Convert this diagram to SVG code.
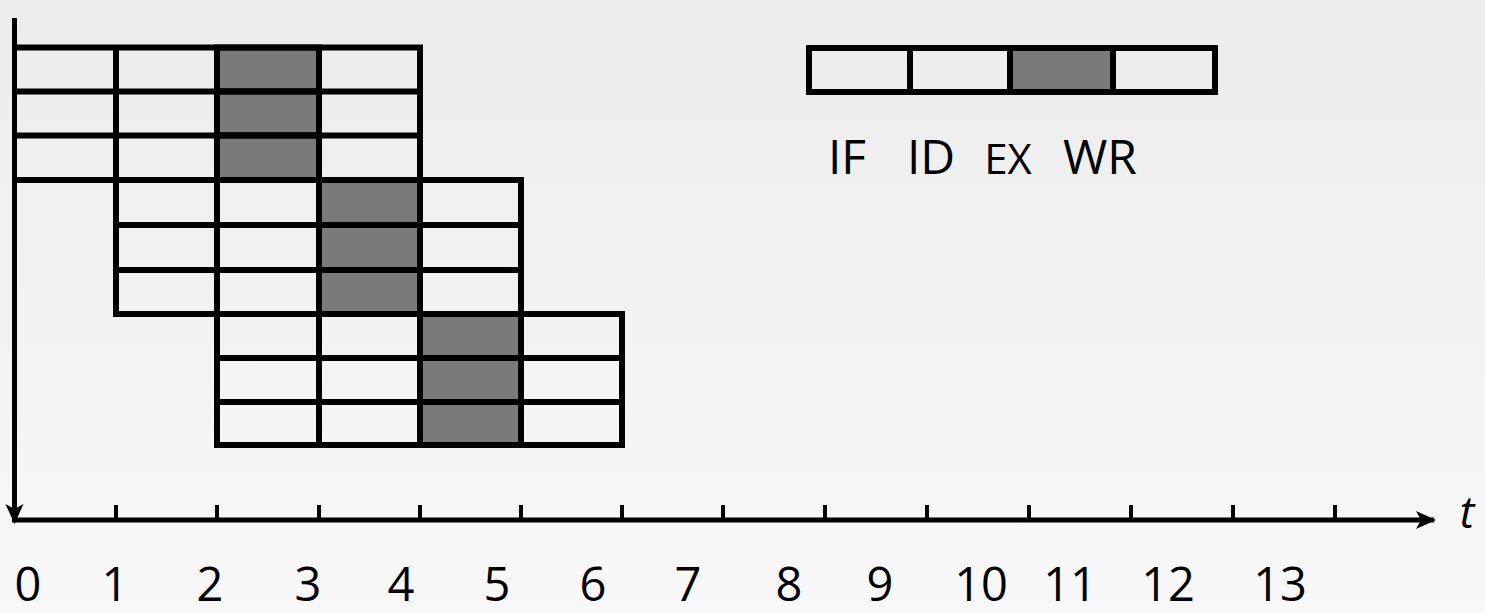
<svg xmlns="http://www.w3.org/2000/svg" width="1485" height="613" viewBox="0 0 1485 613">
<defs>
<linearGradient id="bg" x1="0" y1="0" x2="0" y2="1">
<stop offset="0" stop-color="#ececec"/>
<stop offset="1" stop-color="#f8f8f8"/>
</linearGradient>
<marker id="arr" viewBox="0 0 20 20" refX="18" refY="10" markerWidth="20" markerHeight="20" markerUnits="userSpaceOnUse" orient="auto">
<path d="M0,1 L20,10 L0,19 L5,10 Z" fill="#000"/>
</marker>
</defs>
<style>
.cell{fill:none;stroke:#000;stroke-width:6}
.g{fill:#7a7a7a;stroke:#000;stroke-width:6}
.ax{stroke:#000;stroke-width:5;fill:none}
.tk{stroke:#000;stroke-width:4}
.num{font-family:"Open Sans","Liberation Sans",sans-serif;font-size:47px;fill:#000;text-anchor:middle}
.lbl{font-family:"Open Sans","Liberation Sans",sans-serif;font-size:48px;fill:#000;text-anchor:middle}
</style>
<rect width="1485" height="613" fill="url(#bg)"/>

<g id="group1">
<rect class="g" x="217" y="47.5" width="102" height="44"/>
<rect class="g" x="217" y="91.5" width="102" height="44"/>
<rect class="g" x="217" y="135.5" width="102" height="44.5"/>
<path class="cell" d="M15,47.5 H420 V180 H15 M15,91.5 H420 M15,135.5 H420 M116,47.5 V180 M217,47.5 V180 M319,47.5 V180"/>
</g>

<g id="group2">
<rect class="g" x="319" y="180" width="101" height="45"/>
<rect class="g" x="319" y="225" width="101" height="45"/>
<rect class="g" x="319" y="270" width="101" height="44"/>
<path class="cell" d="M116,180 H521 V314 H116 Z M116,225 H521 M116,270 H521 M217,180 V314 M319,180 V314 M420,180 V314"/>
</g>

<g id="group3">
<rect class="g" x="420" y="314" width="101" height="44"/>
<rect class="g" x="420" y="358" width="101" height="44"/>
<rect class="g" x="420" y="402" width="101" height="43"/>
<path class="cell" d="M217,314 H622 V445 H217 Z M217,358 H622 M217,402 H622 M319,314 V445 M420,314 V445 M521,314 V445"/>
</g>

<g id="legend">
<rect class="g" x="1010" y="48" width="103" height="44"/>
<path class="cell" d="M809,48 H1215 V92 H809 Z M910,48 V92 M1010,48 V92 M1113,48 V92"/>
<text class="lbl" x="847" y="174">IF</text>
<text class="lbl" x="931" y="174">ID</text>
<text class="lbl" x="1008" y="174" style="font-size:42px">EX</text>
<text class="lbl" x="1100" y="174">WR</text>
</g>

<g id="connectors">
<path class="ax" d="M14.5,18 V522" marker-end="url(#arr)"/>
<path class="ax" d="M12,520 H1434" marker-end="url(#arr)"/>
<g class="tk">
<line x1="116" y1="505" x2="116" y2="520"/>
<line x1="217" y1="505" x2="217" y2="520"/>
<line x1="319" y1="505" x2="319" y2="520"/>
<line x1="420" y1="505" x2="420" y2="520"/>
<line x1="521" y1="505" x2="521" y2="520"/>
<line x1="622" y1="505" x2="622" y2="520"/>
<line x1="723" y1="505" x2="723" y2="520"/>
<line x1="825" y1="505" x2="825" y2="520"/>
<line x1="927" y1="505" x2="927" y2="520"/>
<line x1="1029" y1="505" x2="1029" y2="520"/>
<line x1="1131" y1="505" x2="1131" y2="520"/>
<line x1="1233" y1="505" x2="1233" y2="520"/>
<line x1="1335" y1="505" x2="1335" y2="520"/>
</g>
</g>

<g id="axis-labels">
<text class="num" x="28" y="601">0</text>
<text class="num" x="115" y="601">1</text>
<text class="num" x="210" y="601">2</text>
<text class="num" x="308" y="601">3</text>
<text class="num" x="401" y="601">4</text>
<text class="num" x="497" y="601">5</text>
<text class="num" x="593" y="601">6</text>
<text class="num" x="688" y="601">7</text>
<text class="num" x="789" y="601">8</text>
<text class="num" x="880" y="601">9</text>
<text class="num" x="981" y="601">10</text>
<text class="num" x="1070" y="601">11</text>
<text class="num" x="1168" y="601">12</text>
<text class="num" x="1280" y="601">13</text>
<text x="1467" y="528" style="font-family:'Open Sans','Liberation Sans',sans-serif;font-size:44px;font-style:italic;fill:#000" text-anchor="middle">t</text>
</g>
</svg>
